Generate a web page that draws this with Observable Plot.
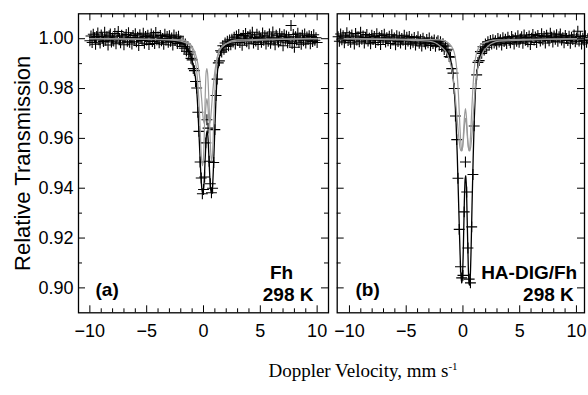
<!DOCTYPE html>
<html><head><meta charset="utf-8">
<script src="https://cdn.jsdelivr.net/npm/d3@7"></script>
<script src="https://cdn.jsdelivr.net/npm/@observablehq/plot@0.6"></script>
<style>
body{margin:0;background:#fff;}
#c{position:relative;width:588px;height:395px;overflow:hidden;background:#fff;}
#c svg{position:absolute;top:0;}
#xt{position:absolute;top:360px;left:363px;transform:translateX(-50%);font-family:"Liberation Serif","Times New Roman",serif;font-size:19px;white-space:nowrap;color:#000;}
#xt sup{font-size:11px;vertical-align:7px;line-height:0;}
</style></head><body>
<div id="c"><div id="xt">Doppler Velocity, mm s<sup>-1</sup></div></div>
<script>
// ---- tick values ----
const xMajor = [-10, -5, 0, 5, 10];
const xMinor = [-9, -8, -7, -6, -4, -3, -2, -1, 1, 2, 3, 4, 6, 7, 8, 9];
const yMajor = [0.90, 0.92, 0.94, 0.96, 0.98, 1.00];
const yMinor = [0.91, 0.93, 0.95, 0.97, 0.99];

// ---- panel (a) Fh: channel velocities (uniform channel grid) and measured transmission ----
const velA = d3.range(201).map(i => +(-10 + 0.1 * i).toFixed(2));
const transA = [
0.9992,1.0011,0.9985,1.0018,1.0004,0.9978,1.0009,1.0023,0.9996,0.9983,
1.0015,1.0002,0.9989,1.0026,0.9994,1.0008,0.9975,1.0012,1.0019,0.9987,
1.0003,0.9991,1.0021,0.9980,1.0010,1.0029,0.9997,0.9984,1.0014,1.0001,
0.9976,1.0007,1.0017,0.9990,1.0024,0.9986,1.0005,0.9979,1.0013,0.9998,
1.0020,0.9988,1.0006,0.9973,1.0016,1.0002,0.9993,1.0022,0.9982,1.0009,
0.9995,1.0014,0.9977,1.0004,1.0019,0.9989,1.0011,0.9981,1.0025,0.9996,
1.0007,0.9984,1.0013,0.9992,1.0001,0.9978,1.0018,0.9994,1.0009,0.9986,
1.0012,0.9990,1.0003,0.9975,1.0015,0.9993,1.0006,0.9981,1.0010,0.9988,
0.9991,0.9969,0.9987,0.9962,0.9979,0.9950,0.9968,0.9938,0.9947,0.9921,
0.9915,0.9880,0.9872,0.9828,0.9802,0.9705,0.9628,0.9505,0.9441,0.9378,
0.9395,0.9445,0.9582,0.9675,0.9641,0.9508,0.9418,0.9382,0.9400,0.9503,
0.9635,0.9772,0.9838,0.9903,0.9911,0.9952,0.9946,0.9972,0.9958,0.9983,
0.9969,0.9990,0.9972,0.9995,0.9976,0.9998,
0.9987,1.0006,0.9979,1.0011,0.9993,1.0017,0.9985,1.0002,0.9974,1.0013,
0.9996,1.0021,0.9988,1.0008,0.9980,1.0015,0.9999,1.0026,0.9983,1.0005,
0.9991,1.0018,0.9977,1.0010,1.0001,0.9986,1.0023,0.9994,1.0012,0.9979,
1.0007,0.9990,1.0019,0.9982,1.0004,1.0027,0.9995,0.9976,1.0014,1.0000,
0.9987,1.0020,0.9993,1.0009,0.9972,1.0016,0.9998,1.0011,0.9984,1.0006,
0.9990,1.0053,0.9981,1.0017,0.9966,1.0008,0.9995,1.0022,0.9986,1.0003,
0.9978,1.0014,0.9992,1.0019,0.9983,1.0007,0.9997,1.0012,0.9980,1.0009,
0.9989,1.0016,0.9994,1.0004,0.9985];
// total fit (black) and two sub-spectra (grey)
const fitAx = [-10,-4,-2.5,-1.8,-1.4,-1.1,-0.85,-0.65,-0.5,-0.38,-0.25,-0.15,-0.05,0.05,0.15,0.25,0.32,0.4,0.5,0.6,0.7,0.8,0.9,1.0,1.1,1.2,1.35,1.55,1.9,2.5,4,10];
const fitAy = [1.000,0.9995,0.9988,0.998,0.996,0.993,0.988,0.982,0.972,0.960,0.947,0.940,0.938,0.942,0.952,0.961,0.963,0.960,0.950,0.941,0.938,0.941,0.951,0.964,0.976,0.985,0.991,0.995,0.997,0.9985,0.9995,1.000];
const g1Ax = [-10,-3,-2,-1.4,-1.0,-0.75,-0.55,-0.4,-0.28,-0.18,-0.1,-0.02,0.06,0.14,0.22,0.3,0.38,0.46,0.55,0.63,0.7,0.78,0.86,0.95,1.05,1.2,1.45,2,3,10];
const g1Ay = [1.000,0.9995,0.999,0.998,0.996,0.992,0.985,0.975,0.962,0.952,0.949,0.951,0.960,0.975,0.986,0.988,0.985,0.977,0.965,0.955,0.951,0.953,0.961,0.973,0.984,0.992,0.996,0.998,0.999,1.000];
const g2Ax = [-10,-2,-1.2,-0.8,-0.5,-0.3,-0.15,-0.05,0.05,0.12,0.2,0.3,0.4,0.48,0.56,0.65,0.75,0.9,1.1,1.4,2.0,3,10];
const g2Ay = [1.000,0.9995,0.998,0.995,0.990,0.983,0.975,0.969,0.966,0.967,0.972,0.976,0.972,0.967,0.966,0.969,0.975,0.983,0.990,0.995,0.998,0.9995,1.000];

// ---- panel (b) HA-DIG/Fh ----
const velB = d3.range(201).map(i => +(-11 + 0.11 * i).toFixed(2));
const transB = [
1.0008,0.9990,1.0019,0.9996,1.0012,0.9984,1.0003,1.0024,0.9993,1.0010,
0.9986,1.0015,1.0001,0.9979,1.0021,0.9995,1.0007,0.9988,1.0026,0.9998,
1.0011,0.9983,1.0005,1.0017,0.9991,1.0002,0.9980,1.0014,0.9997,1.0009,
0.9985,1.0020,0.9994,1.0006,0.9977,1.0013,0.9999,1.0018,0.9987,1.0004,
0.9992,1.0010,0.9981,1.0016,0.9996,1.0003,0.9976,1.0012,0.9989,1.0007,
0.9983,1.0001,0.9994,1.0014,0.9978,1.0006,0.9991,1.0009,0.9980,0.9998,
0.9986,1.0005,0.9975,0.9993,1.0008,0.9982,0.9996,0.9971,1.0002,0.9988,
0.9979,0.9997,0.9984,1.0003,0.9973,0.9990,0.9981,0.9995,0.9970,0.9986,
0.9992,0.9974,0.9988,0.9969,0.9980,0.9957,0.9971,0.9952,0.9958,0.9928,
0.9926,0.9880,0.9862,0.9800,0.9690,0.9595,0.9440,0.9235,0.9085,0.9040,
0.9050,0.9305,0.9505,0.9385,0.9160,0.9035,0.9020,0.9245,0.9455,0.9650,
0.9800,0.9855,0.9905,0.9912,0.9948,0.9941,0.9968,0.9955,0.9979,0.9966,
0.9988,0.9975,0.9993,0.9979,0.9996,0.9983,
0.9992,0.9978,1.0001,0.9987,0.9996,0.9975,1.0004,0.9989,0.9998,0.9981,
1.0006,0.9993,0.9984,1.0009,0.9997,0.9979,1.0003,0.9990,1.0012,0.9986,
0.9999,1.0008,0.9982,1.0015,0.9994,1.0005,0.9988,1.0011,0.9977,1.0002,
1.0017,0.9995,1.0007,0.9985,1.0013,1.0001,0.9991,1.0020,0.9996,1.0009,
0.9983,1.0014,1.0003,0.9992,1.0022,1.0006,0.9987,1.0011,0.9998,1.0016,
0.9990,1.0008,1.0019,0.9995,1.0004,0.9984,1.0013,1.0001,0.9993,1.0010,
0.9982,1.0006,0.9997,1.0015,0.9988,1.0003,1.0030,0.9991,1.0009,0.9979,
1.0002,0.9994,1.0012,0.9986,1.0000];
const fitBx = [-11,-4.5,-3,-2.2,-1.8,-1.4,-1.1,-0.9,-0.75,-0.62,-0.5,-0.4,-0.3,-0.2,-0.12,-0.04,0.04,0.12,0.2,0.26,0.32,0.4,0.48,0.56,0.64,0.72,0.8,0.9,1.0,1.1,1.25,1.45,1.75,2.2,3,4.5,11];
const fitBy = [1.000,0.9995,0.999,0.998,0.997,0.995,0.992,0.986,0.978,0.968,0.953,0.937,0.921,0.907,0.902,0.905,0.917,0.934,0.944,0.945,0.938,0.922,0.907,0.901,0.904,0.916,0.933,0.952,0.968,0.979,0.987,0.992,0.996,0.998,0.999,0.9995,1.000];
const g1Bx = [-11,-2,-1.2,-0.8,-0.55,-0.4,-0.28,-0.18,-0.1,-0.02,0.06,0.14,0.22,0.3,0.38,0.46,0.55,0.63,0.72,0.85,1.0,1.25,1.7,3,11];
const g1By = [1.000,0.9995,0.998,0.995,0.988,0.978,0.966,0.958,0.955,0.957,0.963,0.969,0.972,0.969,0.963,0.957,0.955,0.958,0.966,0.978,0.988,0.995,0.998,0.9995,1.000];
const g2Bx = [-11,-3,-2,-1.4,-1.0,-0.75,-0.55,-0.4,-0.25,-0.15,-0.05,0.05,0.15,0.22,0.3,0.4,0.5,0.6,0.7,0.82,0.95,1.1,1.3,1.6,2.2,3.2,11];
const g2By = [1.000,0.999,0.997,0.994,0.988,0.980,0.970,0.962,0.956,0.955,0.956,0.960,0.966,0.968,0.966,0.960,0.956,0.955,0.957,0.963,0.972,0.981,0.988,0.993,0.997,0.999,1.000];

const FONT = "'Liberation Sans', Arial, Helvetica, sans-serif";
const Y_DOMAIN = [0.89, 1.01];
const H = 395, MT = 13.3, MB = 82.7;
const fmtX = d => d < 0 ? "\u2212" + Math.abs(d) : String(d);

function panel(o) {
  const innerW = o.width - o.mL - o.mR, innerH = H - MT - MB;
  const [x0, x1] = o.xDomain, [y0, y1] = Y_DOMAIN;
  const py = (y1 - y0) / innerH, px = (x1 - x0) / innerW;
  const pts = o.vel.map((v, i) => ({v, t: o.trans[i]}));
  const major = 7, minor = 4;
  const marks = [
    Plot.dot(pts, {x: "v", y: "t", symbol: "plus", r: 3.6, stroke: "black", strokeWidth: 1.1}),
    Plot.line(o.fitX, {x: o.fitX, y: o.fitY, stroke: "black", strokeWidth: 1.3, curve: "monotone-x"}),
    ...o.grays.map(([gx, gy]) => Plot.line(gx, {x: gx, y: gy, stroke: "#9a9a9a", strokeWidth: 1.2, curve: "monotone-x"})),
    Plot.frame({stroke: "black", strokeWidth: 1.3}),
    Plot.ruleX(xMajor, {x: d => d, y1: y0, y2: y0 + major * py, stroke: "black"}),
    Plot.ruleX(xMinor, {x: d => d, y1: y0, y2: y0 + minor * py, stroke: "black"}),
    Plot.ruleX(xMajor, {x: d => d, y1: y1, y2: y1 - major * py, stroke: "black"}),
    Plot.ruleX(xMinor, {x: d => d, y1: y1, y2: y1 - minor * py, stroke: "black"}),
    Plot.ruleY(yMajor, {y: d => d, x1: x0, x2: x0 + major * px, stroke: "black"}),
    Plot.ruleY(yMinor, {y: d => d, x1: x0, x2: x0 + minor * px, stroke: "black"}),
    Plot.ruleY(yMajor, {y: d => d, x1: x1, x2: x1 - major * px, stroke: "black"}),
    Plot.ruleY(yMinor, {y: d => d, x1: x1, x2: x1 - minor * px, stroke: "black"}),
    Plot.text([o.tag], {text: d => d, frameAnchor: "bottom-left", dx: o.tagDx, dy: -17.3, textAnchor: "start", lineAnchor: "bottom", fontSize: 19, fontWeight: "bold"}),
    Plot.text([o.name], {text: d => d, frameAnchor: "bottom-right", dx: o.nameDx, dy: -34.3, textAnchor: o.nameAnchor, lineAnchor: "bottom", fontSize: 19, fontWeight: "bold"}),
    Plot.text(["298 K"], {text: d => d, frameAnchor: "bottom-right", dx: o.tempDx, dy: -12.3, textAnchor: "end", lineAnchor: "bottom", fontSize: 19, fontWeight: "bold"})
  ];
  if (o.yLabel) {
    marks.push(Plot.text([o.yLabel], {text: d => d, frameAnchor: "left", dx: -56, rotate: -90, textAnchor: "middle", lineAnchor: "middle", fontSize: 22}));
  }
  return Plot.plot({
    width: o.width, height: H,
    marginLeft: o.mL, marginRight: o.mR, marginTop: MT, marginBottom: MB,
    style: {fontFamily: FONT, fontSize: "18px", background: "transparent", overflow: "visible", color: "black"},
    x: {domain: o.xDomain, ticks: xMajor, tickSize: 0, tickPadding: 11, tickFormat: fmtX, label: null},
    y: o.yLabel
      ? {domain: Y_DOMAIN, ticks: yMajor, tickSize: 0, tickPadding: 5, tickFormat: d3.format(".2f"), label: null}
      : {domain: Y_DOMAIN, axis: null},
    marks
  });
}

const c = document.getElementById("c");
const a = panel({
  width: 330, mL: 78, mR: 2, xDomain: [-11, 11],
  vel: velA, trans: transA, fitX: fitAx, fitY: fitAy,
  grays: [[g1Ax, g1Ay], [g2Ax, g2Ay]],
  tag: "(a)", tagDx: 17, name: "Fh", nameDx: -47, nameAnchor: "middle", tempDx: -15,
  yLabel: "Relative Transmission"
});
a.style.left = "0px";
const b = panel({
  width: 258, mL: 6.7, mR: 4, xDomain: [-11.08, 10.71],
  vel: velB, trans: transB, fitX: fitBx, fitY: fitBy,
  grays: [[g1Bx, g1By], [g2Bx, g2By]],
  tag: "(b)", tagDx: 18.3, name: "HA-DIG/Fh", nameDx: -7.3, nameAnchor: "end", tempDx: -10.7
});
b.style.left = "330px";
c.appendChild(a);
c.appendChild(b);
</script>
</body></html>
